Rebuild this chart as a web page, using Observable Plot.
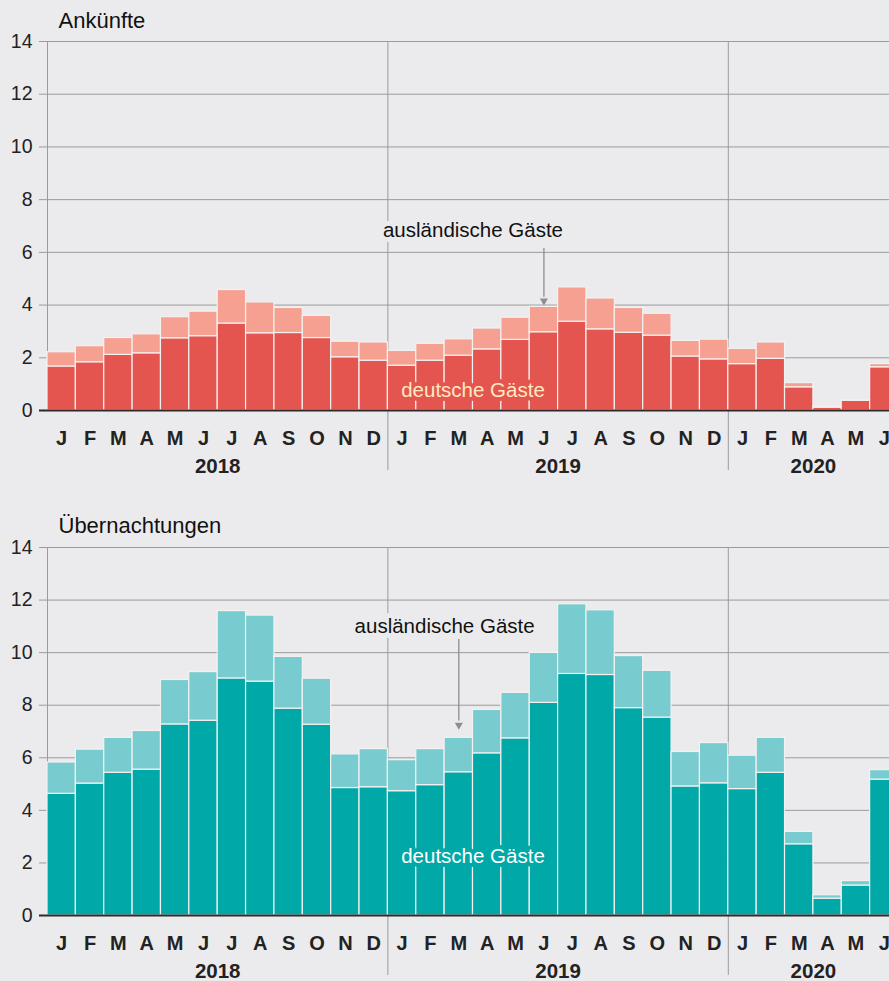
<!DOCTYPE html>
<html><head><meta charset="utf-8">
<script src="https://cdn.jsdelivr.net/npm/d3@7"></script>
<script src="https://cdn.jsdelivr.net/npm/@observablehq/plot@0.6"></script>
<style>
html,body{margin:0;padding:0;background:#ebebed;overflow:hidden;}
#wrap{width:889px;}
svg{display:block;overflow:hidden;}
</style></head><body><div id="wrap"></div>
<script>
// categories
const periods = ["2018-01","2018-02","2018-03","2018-04","2018-05","2018-06","2018-07","2018-08","2018-09","2018-10","2018-11","2018-12",
                 "2019-01","2019-02","2019-03","2019-04","2019-05","2019-06","2019-07","2019-08","2019-09","2019-10","2019-11","2019-12",
                 "2020-01","2020-02","2020-03","2020-04","2020-05","2020-06"];
const monthLetters = ["J","F","M","A","M","J","J","A","S","O","N","D"];
const yearLabels = ["2018","2019","2020"];
const yearCenters = ["2018-07","2019-07","2020-04"];
const yearStarts = ["2019-01","2020-01"];
const yTicks = [0,2,4,6,8,10,12,14];

// Ankünfte (Mio.)
const ankDeutsch = [1.67,1.83,2.11,2.17,2.74,2.82,3.30,2.93,2.94,2.75,2.02,1.89,
                    1.70,1.89,2.08,2.32,2.68,2.97,3.37,3.08,2.95,2.84,2.05,1.94,
                    1.76,1.96,0.88,0.11,0.37,1.64];
const ankAusland = [0.54,0.61,0.64,0.72,0.80,0.93,1.27,1.17,0.95,0.84,0.59,0.69,
                    0.56,0.64,0.62,0.79,0.84,0.96,1.30,1.17,0.94,0.83,0.59,0.75,
                    0.58,0.62,0.16,0.03,0.02,0.12];
// Übernachtungen (Mio.)
const uebDeutsch = [4.63,5.02,5.43,5.55,7.27,7.41,9.02,8.90,7.87,7.26,4.85,4.88,
                    4.73,4.96,5.45,6.17,6.74,8.09,9.19,9.15,7.89,7.53,4.91,5.03,
                    4.81,5.43,2.71,0.64,1.14,5.17];
const uebAusland = [1.19,1.29,1.33,1.47,1.69,1.85,2.56,2.51,1.97,1.75,1.28,1.45,
                    1.18,1.37,1.31,1.65,1.73,1.90,2.65,2.46,1.98,1.78,1.31,1.53,
                    1.27,1.33,0.47,0.13,0.17,0.36];

const FONT = '"Liberation Sans", Arial, Helvetica, sans-serif';
const X0 = 47, X1 = 898;
const BW = (X1 - X0) / periods.length;
const BG = "#ebebed";

function makeChart(cfg) {
  const rows = [];
  periods.forEach((p, i) => {
    rows.push({p, g: "deutsch", v: cfg.deutsch[i]});
    rows.push({p, g: "ausland", v: cfg.ausland[i]});
  });
  return Plot.plot({
    width: 889,
    height: cfg.height,
    marginLeft: X0,
    marginRight: 0,
    marginTop: cfg.marginTop,
    marginBottom: cfg.marginBottom,
    style: {background: BG, fontFamily: FONT, color: "#222", overflow: "hidden"},
    x: {type: "band", domain: periods, range: [X0, X1], padding: 0, round: false, axis: null},
    y: {domain: [0, 14], axis: null},
    color: {domain: ["deutsch", "ausland"], range: [cfg.colorD, cfg.colorA]},
    marks: [
      Plot.ruleY(yTicks.filter(d => d > 0), {stroke: "#9b9b9b", strokeWidth: 1, insetLeft: -8}),
      Plot.ruleX([periods[0]], {dx: -BW / 2, y1: 0, y2: 14, stroke: "#9b9b9b", strokeWidth: 1}),
      Plot.ruleX(yearStarts, {dx: -BW / 2, y1: cfg.sepBottom, y2: 14, stroke: "#9b9b9b", strokeWidth: 1}),
      Plot.barY(rows, {x: "p", y: "v", fill: "g", stroke: "#f4f1f1", strokeWidth: 1.2}),
      Plot.ruleY([0], {stroke: "#2b2b2b", strokeWidth: 2, insetLeft: -8}),
      Plot.axisY({ticks: yTicks, tickSize: 0, tickPadding: 15, fontSize: 19.5, label: null, fill: "#222"}),
      Plot.text(periods, {x: d => d, text: (d, i) => monthLetters[i % 12], frameAnchor: "bottom", lineAnchor: "middle", dy: 28,
        fontWeight: "bold", fontSize: 20, fill: "#222"}),
      Plot.text(yearLabels, {x: (d, i) => yearCenters[i], text: d => d, frameAnchor: "bottom", lineAnchor: "middle", dx: -BW / 2, dy: 56,
        fontWeight: "bold", fontSize: 20.5, fill: "#222"}),
      Plot.text([cfg.title], {frameAnchor: "top-left", lineAnchor: "middle", text: d => d, dx: 11, dy: cfg.titleDy, textAnchor: "start",
        fontSize: 22, fill: "#111"}),
      Plot.text(["deutsche Gäste"], {x: () => cfg.dText.x, y: () => cfg.dText.y, text: d => d, dx: -BW / 2,
        fontSize: 20.5, fill: cfg.dTextColor, stroke: cfg.colorD, strokeWidth: 8}),
      Plot.text(["ausländische Gäste"], {x: () => cfg.aText.x, y: () => cfg.aText.y, text: d => d, dx: -BW / 2,
        fontSize: 20.5, fill: "#111", stroke: BG, strokeWidth: 10}),
      Plot.ruleX([cfg.arrow.x], {y1: cfg.arrow.y1, y2: cfg.arrow.y2, stroke: "#8e8e8e", strokeWidth: 1.3}),
      Plot.dot([cfg.arrow.x], {x: d => d, y: cfg.arrow.tip, symbol: "triangle", r: 3, fill: "#8e8e8e", rotate: 180})
    ]
  });
}

const wrap = document.getElementById("wrap");
wrap.appendChild(makeChart({
  title: "Ankünfte", titleDy: -21,
  deutsch: ankDeutsch, ausland: ankAusland,
  colorD: "#e4554f", colorA: "#f5a091", dTextColor: "#ffe9c2",
  height: 480, marginTop: 41, marginBottom: 70, sepBottom: -2.28,
  dText: {x: "2019-04", y: 0.78},
  aText: {x: "2019-04", y: 6.85},
  arrow: {x: "2019-06", y1: 6.15, y2: 4.3, tip: 4.16}
}));
wrap.appendChild(makeChart({
  title: "Übernachtungen", titleDy: -22,
  deutsch: uebDeutsch, ausland: uebAusland,
  colorD: "#00a8a8", colorA: "#78cbce", dTextColor: "#ffffff",
  height: 501, marginTop: 67, marginBottom: 66, sepBottom: -2.28,
  dText: {x: "2019-04", y: 2.25},
  aText: {x: "2019-03", y: 11.0},
  arrow: {x: "2019-03", y1: 10.5, y2: 7.4, tip: 7.24}
}));
</script></body></html>
